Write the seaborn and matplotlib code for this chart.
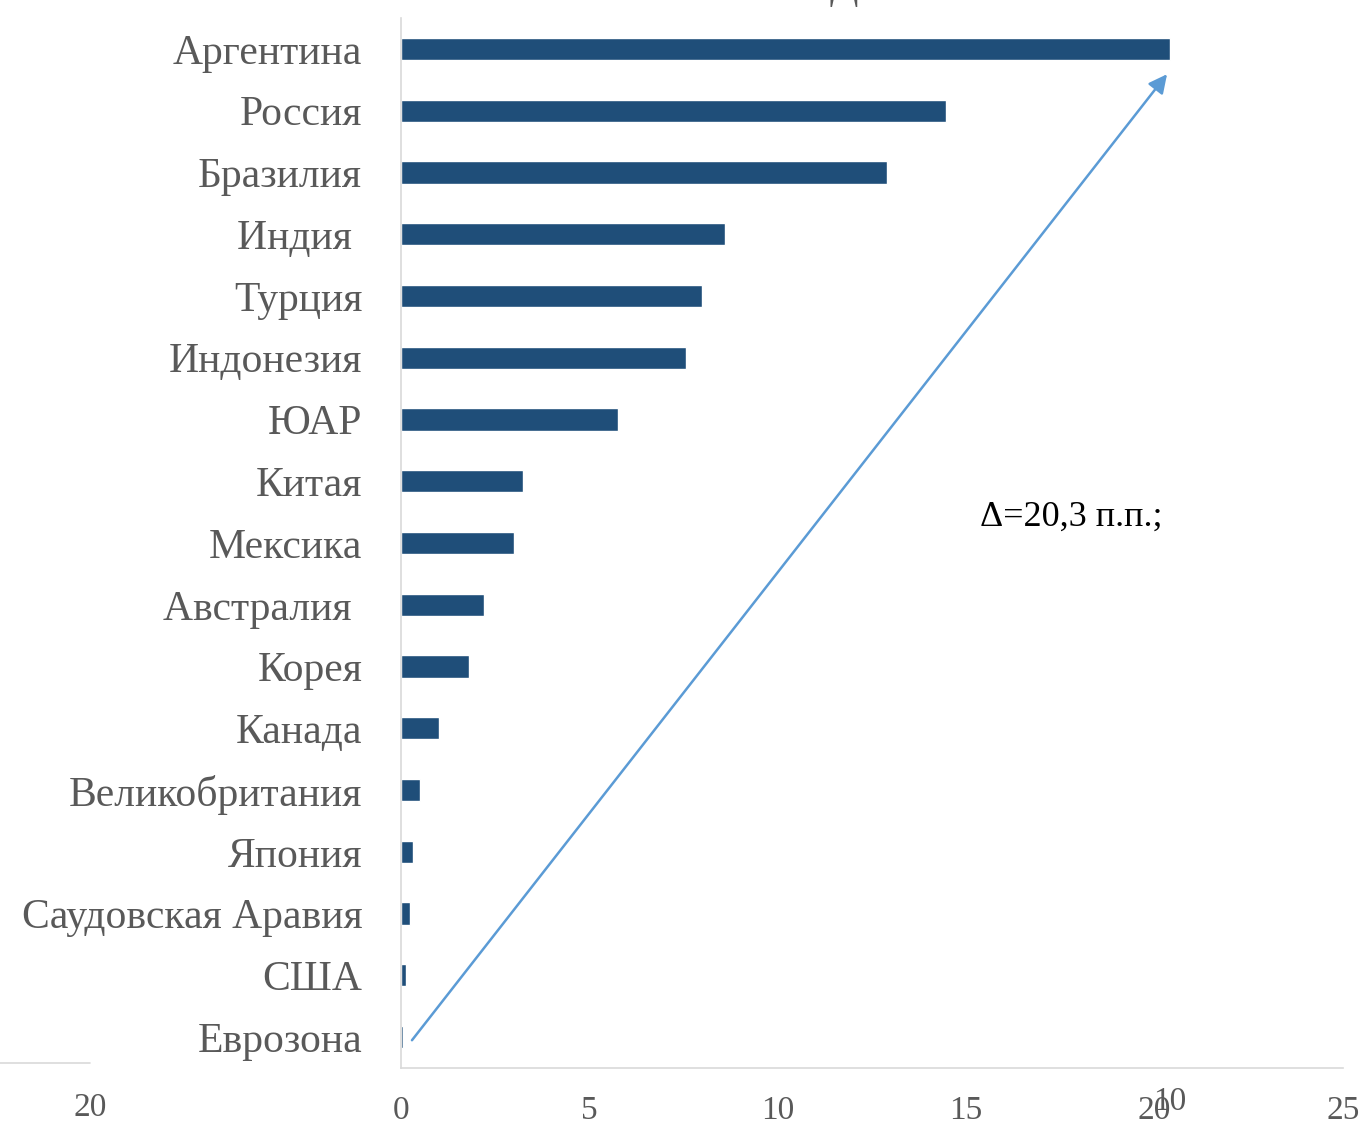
import numpy as np
import pandas as pd
import matplotlib
matplotlib.use('Agg')
import matplotlib.pyplot as plt
import seaborn as sns
from matplotlib.lines import Line2D

# data
countries = ['Аргентина', 'Россия', 'Бразилия', 'Индия ', 'Турция', 'Индонезия', 'ЮАР',
             'Китая', 'Мексика', 'Австралия ', 'Корея', 'Канада', 'Великобритания',
             'Япония', 'Саудовская Аравия', 'США', 'Еврозона']
values = [20.4, 14.45, 12.9, 8.6, 8.0, 7.55, 5.75, 3.25, 3.0, 2.2, 1.8, 1.0, 0.5,
          0.32, 0.24, 0.13, 0.04]
x_ticks = [0, 5, 10, 15, 20, 25]
delta_label = 'Δ=20,3 п.п.;'

BAR = '#1F4E79'
ARROW = '#5B9BD5'
GREY = '#595959'

sns.set_theme(style='white')
plt.rcParams['font.family'] = ['Liberation Serif', 'DejaVu Serif']

df = pd.DataFrame({'country': countries, 'value': values})

fig = plt.figure(figsize=(13.65, 11.24), dpi=100)
ax = fig.add_axes([0.2938, 0.0498, 0.9839 - 0.2938, 0.984 - 0.0498])

sns.barplot(data=df, x='value', y='country', color=BAR, width=0.36,
            saturation=1, ax=ax, orient='h')

ax.set_xlim(0, 25)
ax.set_ylim(16.5, -0.5)
ax.set_xticks(x_ticks)
ax.set_xticklabels([str(t) for t in x_ticks])
ax.set_xlabel('')
ax.set_ylabel('')
ax.tick_params(axis='x', length=0, pad=20, labelsize=24, labelcolor=GREY)
ax.tick_params(axis='y', length=0, pad=28, labelsize=30, labelcolor=GREY)

for s in ['top', 'right']:
    ax.spines[s].set_visible(False)
for s in ['left', 'bottom']:
    ax.spines[s].set_color('#D9D9D9')
    ax.spines[s].set_linewidth(1.2)

# arrow and delta label
ax.annotate('', xy=(20.33, 0.41), xytext=(0.29, 16.05),
            arrowprops=dict(arrowstyle='-|>', color=ARROW, lw=1.8,
                            mutation_scale=28, shrinkA=0, shrinkB=0))
ax.text(17.8, 7.59, delta_label, ha='center', va='center', fontsize=26, color='black')

# leftovers visible in the source image
fig.text(0.618, 0.994, 'Д', ha='center', va='bottom', fontsize=30, color=GREY)
fig.text(0.066, 1 - 1108 / 1124, '20', ha='center', va='center', fontsize=24, color=GREY)
fig.text(0.857, 1 - 1102 / 1124, '10', ha='center', va='center', fontsize=24, color=GREY)
fig.add_artist(Line2D([0, 0.066], [1 - 1063 / 1124] * 2, color='#D9D9D9', lw=1.2))

fig.savefig('out.png', dpi=100)
